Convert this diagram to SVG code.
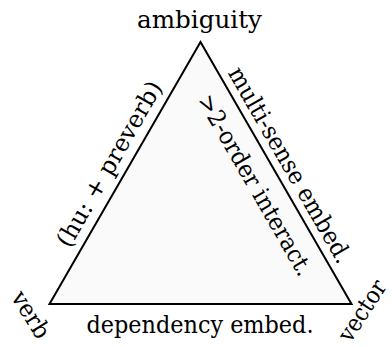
<svg xmlns="http://www.w3.org/2000/svg" width="392" height="347" viewBox="0 0 392 347">
<style>
text{font-family:'DejaVu Serif','Liberation Serif',serif;font-size:24px;fill:#000;text-anchor:middle}
.edge{fill:#fafafa;stroke:#000;stroke-width:2;stroke-linejoin:miter;stroke-miterlimit:10}
</style>
<rect width="392" height="347" fill="#fff"/>
<g id="connectors">
<polygon class="edge" points="200.5,42 351.5,304 49.5,304"/>
</g>
<g id="ambiguity"><text x="199.5" y="28" textLength="125" lengthAdjust="spacingAndGlyphs">ambiguity</text></g>
<g id="verb"><text transform="translate(24,319) rotate(58)" textLength="51" lengthAdjust="spacingAndGlyphs">verb</text></g>
<g id="vector"><text transform="translate(369,315) rotate(-57)" textLength="68" lengthAdjust="spacingAndGlyphs">vector</text></g>
<g id="edge-labels">
<text transform="translate(116.3,168) rotate(-60)" textLength="187" lengthAdjust="spacingAndGlyphs">(hu: + preverb)</text>
<text transform="translate(282.9,169) rotate(60)" textLength="222" lengthAdjust="spacingAndGlyphs">multi-sense embed.</text>
<text transform="translate(248.3,189) rotate(60)" textLength="205" lengthAdjust="spacingAndGlyphs">&gt;2-order interact.</text>
<text x="200" y="333" textLength="227" lengthAdjust="spacingAndGlyphs">dependency embed.</text>
</g>
</svg>
